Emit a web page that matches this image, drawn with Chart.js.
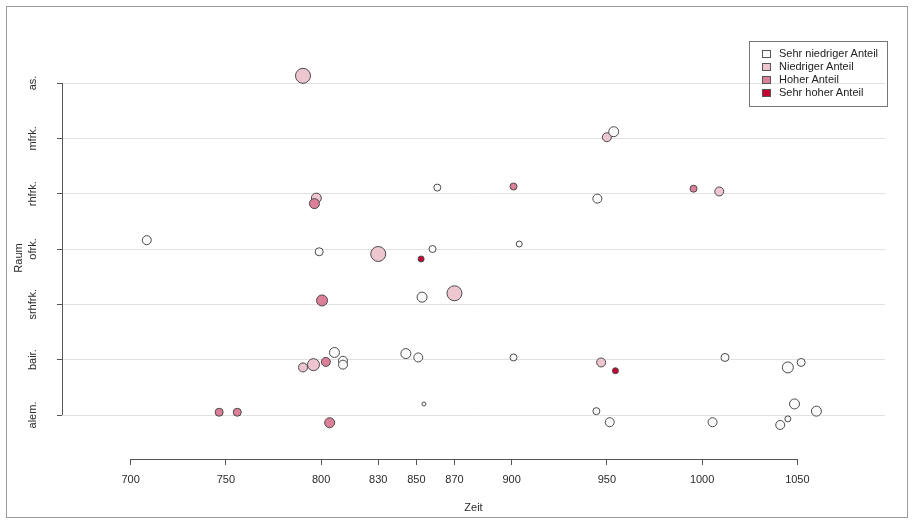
<!DOCTYPE html>
<html>
<head>
<meta charset="utf-8">
<script src="https://cdn.jsdelivr.net/npm/chart.js@4/dist/chart.umd.min.js"></script>
<style>
  body { margin: 0; background: #fff; }
  #wrap { position: relative; width: 913px; height: 523px; }
  #rahmen { position: absolute; left: 6px; top: 6px; width: 900px; height: 510px; border: 1px solid #9a9a9a; pointer-events: none; }
  #legende { position: absolute; left: 749px; top: 41px; width: 139px; height: 66px; border: 1px solid #777; box-sizing: border-box;
    font: 11px "Liberation Sans", Arial, sans-serif; color: #222; padding-top: 5px; }
  #legende div { height: 13px; line-height: 13px; white-space: nowrap; }
  #legende span { display: inline-block; width: 7px; height: 6px; border: 1px solid #555; margin: 0 8px 0 12px; vertical-align: -1px; }
</style>
</head>
<body>
<div id="wrap">
  <canvas id="grafik" width="913" height="523"></canvas>
  <div id="rahmen"></div>
  <div id="legende"></div>
</div>
<script>
// Raum-Kategorien (unten nach oben) und Zeit-Ticks
const raum = ["alem.", "bair.", "srhfrk.", "ofrk.", "rhfrk.", "mfrk.", "as."];
const zeitTicks = [700, 750, 800, 830, 850, 870, 900, 950, 1000, 1050];
const anteile = ["Sehr niedriger Anteil", "Niedriger Anteil", "Hoher Anteil", "Sehr hoher Anteil"];
const farben = ["#fafafa", "#eec6d0", "#dc7f98", "#c80032"];

// Sehr niedriger Anteil
const sehrNiedrigZeit = [953.6, 861, 945, 708.5, 799, 858.5, 904, 853, 807, 811.5, 811.5, 844.5, 851, 901, 1012, 1045, 1052, 854, 944.5, 951.5, 1005.5, 1048.5, 1060, 1045, 1041];
const sehrNiedrigRaum = [5.12, 4.11, 3.91, 3.16, 2.95, 3.0, 3.09, 2.13, 1.13, 0.98, 0.91, 1.11, 1.04, 1.04, 1.04, 0.86, 0.95, 0.2, 0.07, -0.13, -0.13, 0.2, 0.07, -0.07, -0.18];
const sehrNiedrigWert = [5, 3.5, 4.5, 4.5, 4, 3.5, 3, 5, 5, 4.5, 4.5, 5, 4.5, 3.5, 4, 5.5, 4, 2, 3.5, 4.5, 4.5, 5, 5, 3, 4.5];

// Niedriger Anteil
const niedrigZeit = [790.5, 950, 797.5, 1009, 830, 870, 796, 947, 790.5];
const niedrigRaum = [6.13, 5.02, 3.92, 4.04, 2.91, 2.2, 0.91, 0.95, 0.86];
const niedrigWert = [7.5, 4.5, 5, 4.5, 7.5, 7.5, 6, 4.5, 4.5];

// Hoher Anteil
const hochZeit = [796.5, 901, 995.5, 800.5, 802.5, 746.5, 756, 804.5];
const hochRaum = [3.82, 4.13, 4.09, 2.07, 0.96, 0.05, 0.05, -0.14];
const hochWert = [5, 3.5, 3.5, 5.5, 4.5, 4, 4, 5];

// Sehr hoher Anteil
const sehrHochZeit = [852.5, 954.5];
const sehrHochRaum = [2.82, 0.8];
const sehrHochWert = [3, 3];

const punkte = (zeit, rm, wert) => zeit.map((z, i) => ({ x: z, y: rm[i], r: wert[i] }));

const reihen = [
  punkte(sehrNiedrigZeit, sehrNiedrigRaum, sehrNiedrigWert),
  punkte(niedrigZeit, niedrigRaum, niedrigWert),
  punkte(hochZeit, hochRaum, hochWert),
  punkte(sehrHochZeit, sehrHochRaum, sehrHochWert)
];
const reihenfolge = [0, 3, 2, 1];

Chart.defaults.font.family = '"Liberation Sans", Arial, sans-serif';
Chart.defaults.font.size = 11;
Chart.defaults.color = "#2a2a2a";

const achsen = {
  id: "achsen",
  afterDraw(chart) {
    const { ctx, chartArea, scales: { x, y } } = chart;
    ctx.save();
    ctx.strokeStyle = "#555";
    ctx.lineWidth = 1;
    ctx.beginPath();
    const yl = Math.round(chartArea.left) + 0.5;
    ctx.moveTo(yl, y.getPixelForValue(raum.length - 1));
    ctx.lineTo(yl, y.getPixelForValue(0));
    const xb = Math.round(chartArea.bottom) + 0.5;
    ctx.moveTo(x.getPixelForValue(zeitTicks[0]), xb);
    ctx.lineTo(x.getPixelForValue(zeitTicks[zeitTicks.length - 1]), xb);
    ctx.stroke();
    ctx.restore();
  }
};

new Chart(document.getElementById("grafik"), {
  type: "bubble",
  data: {
    datasets: anteile.map((name, i) => ({
      label: name,
      data: reihen[i],
      backgroundColor: farben[i],
      borderColor: "#4a4a4a",
      borderWidth: 1,
      order: reihenfolge[i]
    }))
  },
  options: {
    responsive: false,
    animation: false,
    layout: { padding: { left: 0, top: 57, right: 28, bottom: 0 } },
    plugins: { legend: { display: false }, tooltip: { enabled: false } },
    scales: {
      x: {
        type: "linear",
        min: 664,
        max: 1096,
        afterBuildTicks: s => { s.ticks = zeitTicks.map(v => ({ value: v })); },
        afterFit: s => { s.height = 64; },
        ticks: { autoSkip: false, maxRotation: 0, padding: 8, callback: v => String(v) },
        grid: { drawOnChartArea: false, tickLength: 6, tickColor: "#555" },
        border: { display: false },
        title: { display: true, text: "Zeit", padding: { top: 0, bottom: 8 } }
      },
      y: {
        type: "linear",
        min: -0.795,
        max: 6.47,
        afterBuildTicks: s => { s.ticks = raum.map((_, i) => ({ value: i })); },
        afterFit: s => { s.width = 62; },
        ticks: { autoSkip: false, minRotation: 90, maxRotation: 90, crossAlign: "center", padding: 9, callback: v => raum[v] },
        grid: { color: "#e2e2e2", tickLength: 5, tickColor: "#555" },
        border: { display: false },
        title: { display: true, text: "Raum", padding: { top: 12, bottom: 0 } }
      }
    }
  },
  plugins: [achsen]
});

const legende = document.getElementById("legende");
anteile.forEach((name, i) => {
  const zeile = document.createElement("div");
  const kasten = document.createElement("span");
  kasten.style.background = farben[i];
  zeile.appendChild(kasten);
  zeile.appendChild(document.createTextNode(name));
  legende.appendChild(zeile);
});
</script>
</body>
</html>
